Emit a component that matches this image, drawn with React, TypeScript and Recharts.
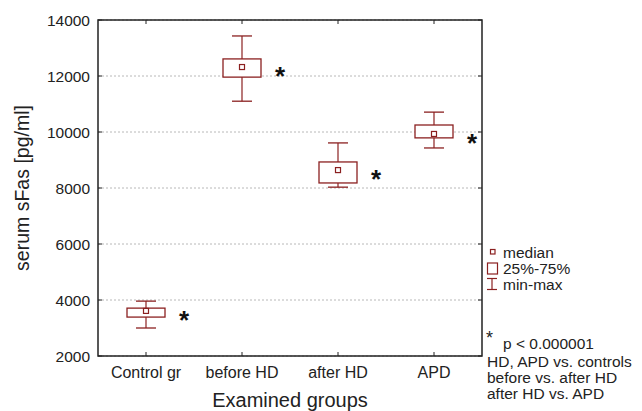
import React from 'react';
import { ComposedChart, Bar, XAxis, YAxis, CartesianGrid, ReferenceArea } from 'recharts';

const groups = ['Control gr', 'before HD', 'after HD', 'APD'];
const minVals = [3000, 11100, 8030, 9430];
const q1Vals = [3390, 11960, 8180, 9790];
const medianVals = [3610, 12320, 8640, 9930];
const q3Vals = [3710, 12610, 8930, 10250];
const maxVals = [3960, 13430, 9610, 10710];
const yTicks = [2000, 4000, 6000, 8000, 10000, 12000, 14000];

const data = groups.map((group, i) => ({
    group,
    min: minVals[i],
    q1: q1Vals[i],
    median: medianVals[i],
    q3: q3Vals[i],
    max: maxVals[i],
}));

const RED = '#8b2020';
const FONT = '"Liberation Sans", Arial, sans-serif';
const PLOT_LEFT = 98;
const PLOT_RIGHT = 482;
const PLOT_TOP = 20;
const PLOT_BOTTOM = 356;

// one range bar per group (min..max); the shape draws whiskers, box, median and the asterisk
const BoxShape = (props: any) => {
    const { x, y, width, height, payload } = props;
    const top = Math.min(y, y + height);
    const bottom = Math.max(y, y + height);
    const pix = (v: number) => top + ((payload.max - v) / (payload.max - payload.min)) * (bottom - top);
    const cx = x + width / 2;
    const capHalf = 10;
    const yq3 = pix(payload.q3);
    const yq1 = pix(payload.q1);
    const ymed = pix(payload.median);
    return (
        <g>
            <line x1={cx} x2={cx} y1={top} y2={yq3} stroke={RED} strokeWidth={1.2} />
            <line x1={cx} x2={cx} y1={yq1} y2={bottom} stroke={RED} strokeWidth={1.2} />
            <line x1={cx - capHalf} x2={cx + capHalf} y1={top} y2={top} stroke={RED} strokeWidth={1.3} />
            <line x1={cx - capHalf} x2={cx + capHalf} y1={bottom} y2={bottom} stroke={RED} strokeWidth={1.3} />
            <rect x={x} y={yq3} width={width} height={yq1 - yq3} fill="#fff" stroke={RED} strokeWidth={1.3} />
            <rect x={cx - 2.5} y={ymed - 2.5} width={5} height={5} fill="#fff" stroke={RED} strokeWidth={1.2} />
            <text x={cx + 38} y={ymed + 18} textAnchor="middle" fontSize={26} fontWeight="bold" fill="#111" fontFamily={FONT}>
                *
            </text>
        </g>
    );
};

const XTick = (props: any) => {
    const { x, y, payload } = props;
    return (
        <g>
            <line x1={x} x2={x} y1={PLOT_BOTTOM} y2={PLOT_BOTTOM - 4} stroke="#222" />
            <line x1={x} x2={x} y1={PLOT_TOP} y2={PLOT_TOP + 4} stroke="#222" />
            <text x={x} y={y + 21.5} textAnchor="middle" fontSize={16} fill="#222" fontFamily={FONT}>
                {payload.value}
            </text>
        </g>
    );
};

const YTick = (props: any) => {
    const { x, y, payload } = props;
    return (
        <g>
            <line x1={PLOT_LEFT} x2={PLOT_LEFT + 4} y1={y} y2={y} stroke="#222" />
            <line x1={PLOT_RIGHT} x2={PLOT_RIGHT - 4} y1={y} y2={y} stroke="#222" />
            <text x={x} y={y + 5.5} textAnchor="end" fontSize={15.5} fill="#222" fontFamily={FONT}>
                {payload.value}
            </text>
        </g>
    );
};

const LegendOverlay = () => (
    <svg width={642} height={411} style={{ position: 'absolute', left: 0, top: 0, pointerEvents: 'none' }}>
        <g fontFamily={FONT} fontSize={15.5} fill="#222">
            <rect x={490.5} y={249.5} width={4.5} height={4.5} fill="#fff" stroke={RED} strokeWidth={1.2} />
            <text x={503} y={257.5}>median</text>
            <rect x={487.5} y={263} width={10} height={11} fill="#fff" stroke={RED} strokeWidth={1.2} />
            <text x={503} y={273.5}>25%-75%</text>
            <line x1={487} x2={497} y1={278.5} y2={278.5} stroke={RED} strokeWidth={1.2} />
            <line x1={492} x2={492} y1={278.5} y2={289.5} stroke={RED} strokeWidth={1.2} />
            <line x1={487} x2={497} y1={289.5} y2={289.5} stroke={RED} strokeWidth={1.2} />
            <text x={503} y={289.5}>min-max</text>
            <text x={486} y={344} fontSize={18}>*</text>
            <text x={503} y={348.5}>p &lt; 0.000001</text>
            <text x={487} y={366.5}>HD, APD vs. controls</text>
            <text x={487} y={382.5}>before vs. after HD</text>
            <text x={487} y={398.5}>after HD vs. APD</text>
        </g>
    </svg>
);

export default function App() {
    return (
        <div style={{ position: 'absolute', left: 0, top: 0, width: 642, height: 411, background: '#fff', fontFamily: FONT }}>
            <ComposedChart
                width={642}
                height={411}
                data={data}
                margin={{ top: 20, right: 160, bottom: 0, left: 0 }}
            >
                <CartesianGrid vertical={false} stroke="#b8b8b8" strokeDasharray="2 2" />
                <XAxis
                    dataKey="group"
                    height={55}
                    axisLine={false}
                    tickLine={false}
                    tickSize={0}
                    tickMargin={0}
                    tick={<XTick />}
                    label={{ value: 'Examined groups', position: 'insideBottom', offset: 4, fontSize: 20, fill: '#222', fontFamily: FONT }}
                />
                <YAxis
                    width={98}
                    domain={[2000, 14000]}
                    ticks={yTicks}
                    axisLine={false}
                    tickLine={false}
                    tickSize={0}
                    tickMargin={8}
                    tick={<YTick />}
                    label={{
                        value: 'serum sFas [pg/ml]',
                        angle: -90,
                        position: 'insideLeft',
                        offset: 22,
                        fontSize: 19.5,
                        fill: '#222',
                        fontFamily: FONT,
                        style: { textAnchor: 'middle' },
                    }}
                />
                <ReferenceArea y1={2000} y2={14000} fill="none" stroke="#222" strokeWidth={1.5} />
                <Bar dataKey={(d: any) => [d.min, d.max]} barSize={38} shape={<BoxShape />} isAnimationActive={false} />
            </ComposedChart>
            <LegendOverlay />
        </div>
    );
}
